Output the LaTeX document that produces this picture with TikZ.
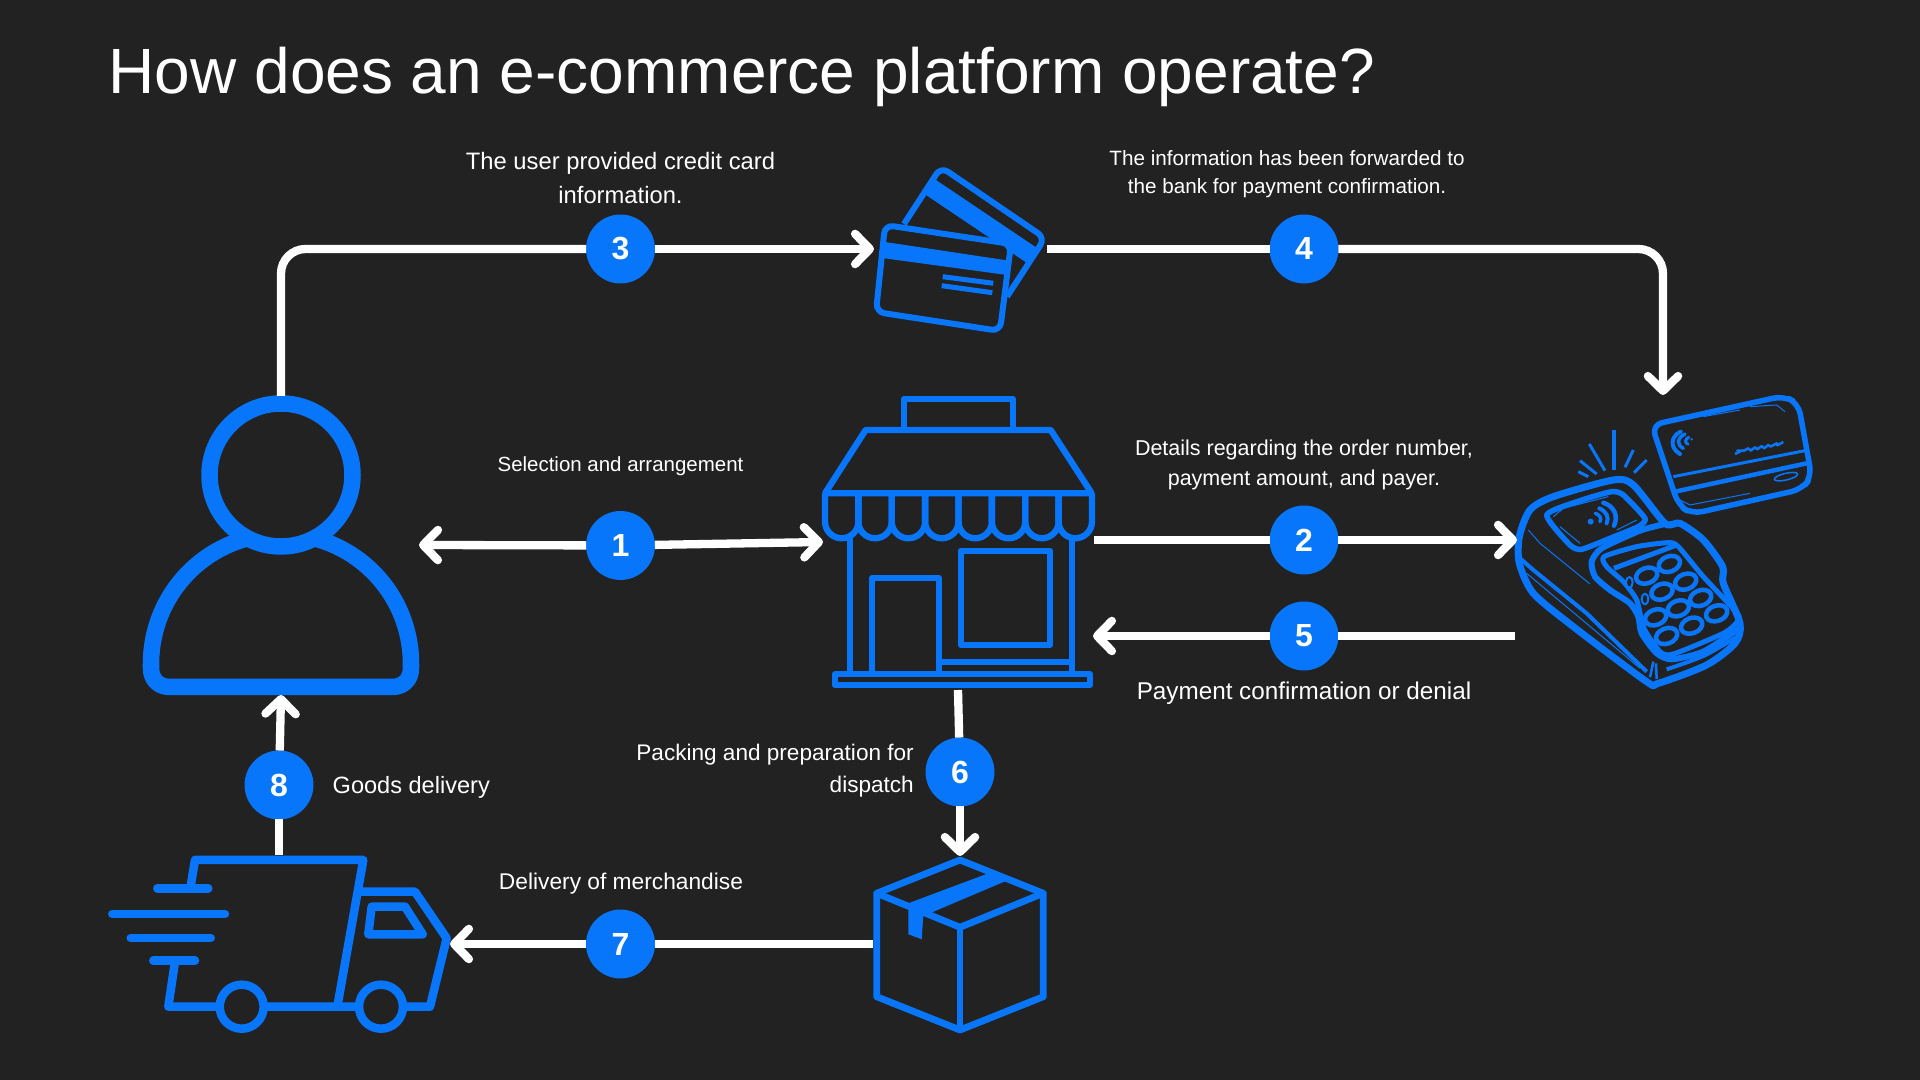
\documentclass[tikz,border=0pt]{standalone}
\usepackage{fontspec}
\setmainfont{Liberation Sans}
\usetikzlibrary{arrows.meta}
\definecolor{bgdark}{HTML}{222222}
\definecolor{brand}{HTML}{0876FA}
\tikzset{
  lw/.style={line width=#1*0.2845pt},
  icon/.style={draw=brand,line join=round},
  flow/.style={draw=white,lw=8.3,line cap=butt,
    >={Straight Barb[length=4.2pt,width=8.6pt,round]}},
  badge/.style={circle,fill=brand,text=white,minimum size=19.6pt,inner sep=0pt,outer sep=0pt,
    font=\bfseries\fontsize{9.1pt}{9.1pt}\selectfont},
  caption/.style={text=white,align=center,inner sep=0pt},
  small/.style={caption,font=\fontsize{#1}{8.2pt}\selectfont},
}
\begin{document}
\begin{tikzpicture}[x=0.01cm,y=-0.01cm]
\useasboundingbox (0,0) rectangle (1920,1080);
\fill[bgdark] (0,0) rectangle (1920,1080);

% heading
\node[anchor=base west,inner sep=0pt,text=white,font=\fontsize{18.2pt}{20pt}\selectfont] (title) at (108,94) {How does an e-commerce platform operate?};

% person
\draw[icon,lw=16.5] (151,664) .. controls (151,592) and (209,534) .. (281,534)
  .. controls (353,534) and (411,592) .. (411,664) -- (411,668)
  .. controls (411,680) and (403,687) .. (392,687) -- (170,687)
  .. controls (159,687) and (151,680) .. (151,668) -- cycle;
\draw[icon,lw=16.5,fill=bgdark] (281,475) circle [radius=71.5];

% payment cards
\draw[icon,lw=6,rounded corners=2.4pt] (904,224) -- (941,167) -- (1045,238) -- (1007,296.7);
\fill[brand] (936,180) -- (1037,248) -- (1027,263) -- (926,195) -- cycle;
\draw[icon,lw=6,fill=bgdark,rounded corners=2.4pt] (885,225) -- (1011,244) -- (1000,331) -- (876,312) -- cycle;
\fill[brand] (885,242) -- (1011,261) -- (1007,275) -- (882,258) -- cycle;
\draw[icon,lw=5] (942.7,276.7) -- (993.3,283.3) (941.7,285.7) -- (992.3,292.7);

% shop front
\begin{scope}[icon,lw=6.3]
  \draw (904.3,430) -- (904.3,399) -- (1012.7,399) -- (1012.7,430);
  \draw (825,493.3) -- (865.7,430) -- (1050.7,430) -- (1091.7,493.3) -- cycle;
  \foreach \k in {0,...,7}{
    \pgfmathsetmacro{\xa}{825+33.375*\k}
    \pgfmathsetmacro{\xb}{\xa+33.375}
    \pgfmathsetmacro{\xm}{\xa+16.69}
    \draw (\xa,493.3) -- (\xa,521.6) .. controls (\xa,530.8) and (\xa+7.5,538.3) .. (\xm,538.3)
      .. controls (\xb-7.5,538.3) and (\xb,530.8) .. (\xb,521.6) -- (\xb,493.3);
  }
  \draw (850,538) -- (850,673);
  \draw (1071.7,538) -- (1071.7,673);
  \draw (872,673) -- (872,578.3) -- (939,578.3) -- (939,673);
  \draw (960.7,550.7) rectangle (1050,645);
  \draw (939,661.7) -- (1071.7,661.7);
  \draw (835,674.3) rectangle (1090,685);
\end{scope}

% delivery truck
\begin{scope}[icon,lw=8.5]
  \draw (190.7,886) -- (195,860) -- (363.3,860) -- (337.3,1006.7);
  \draw (175,961.7) -- (168.3,1006.7) -- (430,1006.7) -- (446.7,938.3) -- (415,891.7) -- (360,891.7);
  \draw[line cap=round] (157.3,888.3) -- (208.3,888.3);
  \draw[line cap=round] (112.3,914) -- (225,914);
  \draw[line cap=round] (130.7,938) -- (210.7,938);
  \draw[line cap=round] (153.3,960.7) -- (195,960.7);
  \draw (371.7,906.7) -- (405,906.7) -- (422.7,934.3) -- (368.3,934.3) -- cycle;
  \draw[fill=bgdark] (241.7,1006.7) circle [radius=22];
  \draw[fill=bgdark] (381,1006.7) circle [radius=22];
\end{scope}

% parcel
\begin{scope}[icon,lw=6.8]
  \draw (960,860) -- (1043.3,893.3) -- (1043.3,996.7) -- (960,1030) -- (876.7,996.7) -- (876.7,893.3) -- cycle;
  \draw (876.7,893.3) -- (960,927.3) -- (1043.3,893.3);
  \draw (960,927.3) -- (960,1030);
\end{scope}
\fill[brand] (988.3,873.3) -- (1008.3,880) -- (923.3,916) -- (921.7,939.3) -- (908.3,934.3) -- (908.3,903.3) -- cycle;

% contactless card and card terminal, drawn on a three-to-one grid
\begin{scope}[shift={(1490,380)},scale=0.33333,icon]
  % card
  \draw[lw=5.5,rounded corners=3pt] (485,135) -- (880,48) -- (925,70) -- (965,290) -- (935,328) -- (605,402) -- (565,375) -- cycle;
  \draw[lw=3] (550,290) -- (945,212);
  \draw[lw=4.5] (555,335) -- (950,250);
  \draw[lw=1] (640,110) -- (750,90) (780,80) -- (860,75) -- (885,95);
  \draw[lw=1] (570,360) -- (600,375) -- (780,340);
  \draw[lw=1.5,shift={(888,290)},rotate=13] (0,0) ellipse [x radius=36,y radius=10];
  \draw[lw=4,line cap=round] (572,155) .. controls (540,170) and (540,205) .. (570,222);
  \draw[lw=3.5,line cap=round] (585,162) .. controls (560,175) and (560,195) .. (580,205);
  \draw[lw=3,line cap=round] (596,172) .. controls (584,178) and (584,188) .. (594,193);
  \fill[brand] (605,178) circle [radius=4];
  \draw[lw=2.5] (735,222) -- (750,215) -- (742,212) -- (762,212) -- (775,205) -- (782,212) -- (795,202) -- (802,208) -- (815,198) -- (822,205) -- (835,195) -- (842,200) -- (860,190) -- (862,196) -- (880,186);

  % housing
  \draw[lw=7] plot[smooth cycle,tension=0.45] coordinates {(370,300) (190,350) (120,390) (88,470) (88,550) (130,640) (250,740) (470,905) (505,910) (650,855) (735,790) (750,730) (700,610) (698,560) (640,480) (570,430) (525,430) (430,315)};
  \draw[lw=6] plot[smooth,tension=0.4] coordinates {(525,432) (450,452) (335,505) (305,545) (315,590) (360,630) (420,670) (445,710) (455,760) (500,820) (545,838) (640,815) (748,745)};
  \draw[lw=4] (90,535) -- (130,570) -- (290,700) -- (470,875);
  \draw[lw=1] (115,450) -- (150,490) -- (300,612);
  \draw[lw=1] (110,580) -- (450,865);
  \draw[lw=4] plot[smooth,tension=0.5] coordinates {(530,868) (640,828) (745,768)};
  \draw[lw=2.5] (490,845) -- (480,892);
  \draw[lw=2.5] (498,850) -- (500,897);
  % screen
  \draw[lw=5.5] plot[smooth cycle,tension=0.35] coordinates {(170,405) (270,362) (365,335) (400,345) (465,415) (445,440) (360,475) (275,508) (240,495)};
  \draw[lw=1] (190,410) -- (220,385) -- (355,350) (210,440) -- (270,490) (380,450) -- (440,420);
  \draw[lw=4.5,line cap=round] (340,368) .. controls (375,380) and (385,410) .. (372,437);
  \draw[lw=4,line cap=round] (328,385) .. controls (350,395) and (358,412) .. (350,430);
  \draw[lw=3.5,line cap=round] (316,400) .. controls (330,405) and (335,415) .. (330,425);
  \fill[brand] (302,425) circle [radius=9];
  % rays
  \draw[lw=4] (372,150) -- (372,270);
  \draw[lw=3] (298,192) -- (345,272) (270,242) -- (320,282) (265,275) -- (295,290) (430,210) -- (405,262) (470,240) -- (432,278);
  % keypad
  \draw[lw=5] plot[smooth cycle,tension=0.4] coordinates {(342,530) (440,500) (535,488) (565,500) (640,590) (742,700) (742,725) (700,760) (550,822) (510,815) (462,745) (440,660) (400,605) (350,560)};
  \draw[lw=5] (372,565) -- (555,497);
  \foreach \kx/\ky in {470/587,538/552,516/635,587/605,632/654,565/685,680/700,605/737,530/768,497/712}{
    \draw[lw=4.5,fill=bgdark,shift={(\kx,\ky)},rotate=20] (0,0) ellipse [x radius=33,y radius=23];
  }
  \draw[lw=2,fill=bgdark] (418,607) ellipse [x radius=10,y radius=16];
  \draw[lw=2,fill=bgdark] (465,657) ellipse [x radius=10,y radius=16];
\end{scope}

% anchor points on the icons
\coordinate (userTop) at (281,396);
\coordinate (userRight) at (419,545);
\coordinate (userBottom) at (281,695);
\coordinate (cardIn) at (874,249);
\coordinate (cardOut) at (1047,249);
\coordinate (posTop) at (1663,395);
\coordinate (posLeftA) at (1517,540);
\coordinate (posLeftB) at (1515,636);
\coordinate (shopLeft) at (823,542);
\coordinate (shopRightA) at (1094,540);
\coordinate (shopRightB) at (1093,636);
\coordinate (shopBottom) at (958,690);
\coordinate (boxTop) at (960,856);
\coordinate (boxLeft) at (873,944);
\coordinate (truckRight) at (450,944);
\coordinate (truckTop) at (279,855);

% numbered steps
\node[badge] (b1) at (620.5,545.5) {1};
\node[badge] (b2) at (1304,540) {2};
\node[badge] (b3) at (620.5,249) {3};
\node[badge] (b4) at (1304,249) {4};
\node[badge] (b5) at (1304,636) {5};
\node[badge] (b6) at (960,772) {6};
\node[badge] (b7) at (620.5,944) {7};
\node[badge] (b8) at (279,785) {8};

% connectors
\draw[flow,rounded corners=7pt] (userTop) |- (b3);
\draw[flow,->] (b3) -- (cardIn);
\draw[flow] (cardOut) -- (b4);
\draw[flow,->,rounded corners=7pt] (b4) -| (posTop);
\draw[flow,->] (b1) -- (userRight);
\draw[flow,->] (b1) -- (shopLeft);
\draw[flow] (shopRightA) -- (b2);
\draw[flow,->] (b2) -- (posLeftA);
\draw[flow] (posLeftB) -- (b5);
\draw[flow,->] (b5) -- (shopRightB);
\draw[flow] (shopBottom) -- (b6);
\draw[flow,->] (b6) -- (boxTop);
\draw[flow] (boxLeft) -- (b7);
\draw[flow,->] (b7) -- (truckRight);
\draw[flow] (truckTop) -- (b8);
\draw[flow,->] (b8) -- (userBottom);

% captions
\node[caption,font=\fontsize{6.76pt}{9.4pt}\selectfont] (t3) at (620.5,178) {The user provided credit card\\information.};
\node[caption,font=\fontsize{5.88pt}{8pt}\selectfont] (t4) at (1287,174.5) {The information has been forwarded to\\the bank for payment confirmation.};
\node[small=5.82pt] (t1) at (620.5,466.5) {Selection and arrangement};
\node[caption,font=\fontsize{6.11pt}{8.4pt}\selectfont] (t2) at (1304,465) {Details regarding the order number,\\payment amount, and payer.};
\node[small=6.9pt] (t5) at (1304,693.5) {Payment confirmation or denial};
\node[caption,align=right,anchor=east,font=\fontsize{6.42pt}{9.1pt}\selectfont] (t6) at (914.5,770.5) {Packing and preparation for\\dispatch};
\node[small=6.7pt,anchor=west] (t8) at (332,787.5) {Goods delivery};
\node[small=6.47pt] (t7) at (621,884) {Delivery of merchandise};
\end{tikzpicture}
\end{document}
